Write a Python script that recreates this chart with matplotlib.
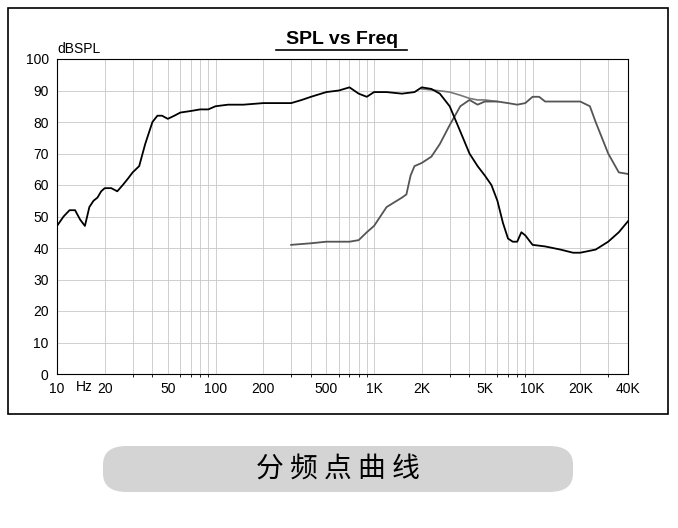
import numpy as np
import matplotlib.pyplot as plt
from matplotlib.patches import FancyBboxPatch, Rectangle

plt.rcParams['font.family'] = ['Liberation Sans', 'Noto Sans CJK SC']

# woofer (black)
f_woof = [10, 11, 12, 13, 14, 15, 16, 17, 18, 19, 20, 22, 24, 26, 28, 30, 33, 36, 40, 43, 46, 50, 55, 60, 70, 80, 90,
          100, 120, 150, 200, 250, 300, 350, 400, 500, 600, 700, 800, 900, 1000, 1200, 1500, 1800, 2000, 2300, 2600,
          3000, 3500, 4000, 4500, 5000, 5500, 6000, 6500, 7000, 7500, 8000, 8500, 9000, 10000, 12000, 15000, 18000,
          20000, 25000, 30000, 35000, 40000]
spl_woof = [47, 50, 52, 52, 49, 47, 53, 55, 56, 58, 59, 59, 58, 60, 62, 64, 66, 73, 80, 82, 82, 81, 82, 83, 83.5, 84,
            84, 85, 85.5, 85.5, 86, 86, 86, 87, 88, 89.5, 90, 91, 89, 88, 89.5, 89.5, 89, 89.5, 91, 90.5, 89,
            85, 77, 70, 66, 63, 60, 55, 48, 43, 42, 42, 45, 44, 41, 40.5, 39.5, 38.5, 38.5, 39.5, 42, 45, 48.5]

# tweeter (grey)
f_tw = [300, 400, 500, 700, 800, 900, 1000, 1200, 1500, 1600, 1700, 1800, 2000, 2300, 2600, 3000, 3500, 4000, 4500,
        5000, 6000, 7000, 8000, 9000, 10000, 11000, 12000, 15000, 20000, 23000, 25000, 30000, 35000, 40000]
spl_tw = [41, 41.5, 42, 42, 42.5, 45, 47, 53, 56, 57, 63, 66, 67, 69, 73, 79, 85, 87, 85.5,
          86.5, 86.5, 86, 85.5, 86, 88, 88, 86.5, 86.5, 86.5, 85, 80, 70, 64, 63.5]

# summed response around crossover (grey)
f_sum = [2000, 2500, 3000, 3500, 4000, 4500, 5000, 6000]
spl_sum = [90.5, 90, 89.5, 88.5, 87.5, 87, 87, 86.5]

fig = plt.figure(figsize=(6.78, 5.28), dpi=100)
fig.patches.append(Rectangle((8/678, 1-414/528), 660/678, 406/528, transform=fig.transFigure,
                             fill=False, ec='black', lw=1.2))
ax = fig.add_axes([57/678, 1-374/528, 571/678, 315/528])
ax.set_xscale('log')
ax.set_xlim(10, 40000)
ax.set_ylim(0, 100)
ax.plot(f_sum, spl_sum, color='#777777', lw=1.2)
ax.plot(f_tw, spl_tw, color='#555555', lw=1.3)
ax.plot(f_woof, spl_woof, color='black', lw=1.3)

ticks = [10, 20, 50, 100, 200, 500, 1000, 2000, 5000, 10000, 20000, 40000]
labels = ['10', '20', '50', '100', '200', '500', '1K', '2K', '5K', '10K', '20K', '40K']
ax.set_xticks(ticks)
ax.set_xticklabels(labels)
ax.set_xticks([m * d for d in [10, 100, 1000, 10000] for m in range(1, 10) if m * d <= 40000], minor=True)
ax.xaxis.set_minor_formatter(plt.NullFormatter())
ax.set_yticks(range(0, 101, 10))
ax.grid(True, which='both', axis='x', color='#c8c8c8', lw=0.6)
ax.grid(True, which='major', axis='y', color='#c8c8c8', lw=0.6)
ax.tick_params(length=0, labelsize=10, pad=6)
for s in ax.spines.values():
    s.set_linewidth(0.8)
ax.text(14.8, -1.9, 'Hz', fontsize=10, ha='center', va='top')
ax.text(10, 101, 'dBSPL', fontsize=10, va='bottom')
fig.text(342/678, 1-40/528, 'SPL vs Freq', fontsize=14, fontweight='bold', ha='center', va='center')
fig.add_artist(plt.Line2D([276/678, 407/678], [1-50/528, 1-50/528], color='black', lw=1.2))

fig.patches.append(FancyBboxPatch((103/678, 1-492/528), 470/678, 46/528, transform=fig.transFigure,
                                  boxstyle='round,pad=0,rounding_size=0.035', fc='#d4d4d4', ec='none'))
fig.text(338/678, 1-469/528, '分 频 点 曲 线', fontsize=20, ha='center', va='center',
         family='Noto Sans CJK SC')
fig.savefig('out.png', dpi=100)
